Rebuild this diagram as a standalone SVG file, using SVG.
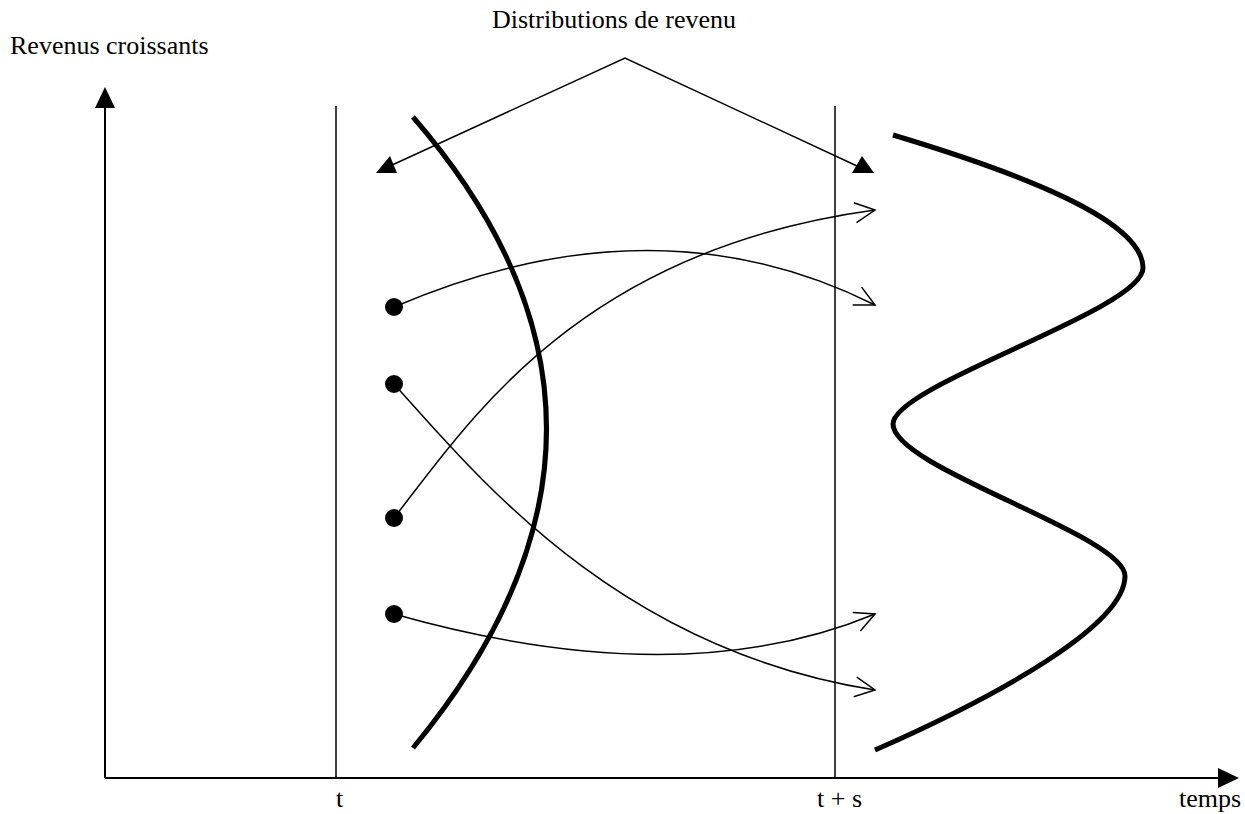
<svg xmlns="http://www.w3.org/2000/svg" width="1245" height="814" viewBox="0 0 1245 814">
<style>
text{font-family:"Liberation Serif","Times New Roman",serif;font-size:26px;fill:#000}
.thin{fill:none;stroke:#000;stroke-width:1.5}
.axis{fill:none;stroke:#000;stroke-width:2}
.thick{fill:none;stroke:#000;stroke-width:5;stroke-linejoin:round}
.arr{fill:none;stroke:#000;stroke-width:1.5;marker-end:url(#open)}
</style>
<defs>
<marker id="open" markerUnits="userSpaceOnUse" markerWidth="26" markerHeight="26" refX="22" refY="11" orient="auto" viewBox="0 0 26 22">
<path d="M2,1 L22,11 L2,21" fill="none" stroke="#000" stroke-width="1.5"/>
</marker>
</defs>
<rect width="1245" height="814" fill="#fff"/>
<g id="labels">
<text x="10" y="54">Revenus croissants</text>
<text x="492" y="28">Distributions de revenu</text>
<text x="336" y="807">t</text>
<text x="817" y="807">t + s</text>
<text x="1179" y="807">temps</text>
</g>
<g id="axes">
<line class="axis" x1="105" y1="778" x2="105" y2="100"/>
<polygon points="105,87 95,108 115,108"/>
<line class="axis" x1="105" y1="778" x2="1225" y2="778"/>
<polygon points="1239,778 1218,768 1218,788"/>
<line class="thin" x1="336" y1="106" x2="336" y2="778"/>
<line class="thin" x1="835" y1="106" x2="835" y2="778"/>
</g>
<g id="distribution-t">
<path class="thick" d="M413,117 Q680,425 413,748"/>
</g>
<g id="distribution-ts">
<path class="thick" d="M893,135 C1060,185 1143,228 1143,268 C1143,310 893,385 893,424 C893,468 1125,535 1125,576 C1125,625 1000,695 875,750"/>
</g>
<g id="dots">
<circle cx="394" cy="307" r="9"/>
<circle cx="394" cy="384" r="9"/>
<circle cx="394" cy="518" r="9"/>
<circle cx="394" cy="614" r="9"/>
</g>
<g id="connectors">
<polyline class="thin" points="390,166 625,58 857,166"/>
<polygon points="376,173 397,173 390,156"/>
<polygon points="852,173 874,173 862,156"/>
<path class="arr" d="M394,307 Q655,195 875,305"/>
<path class="arr" d="M394,384 C480,480 620,650 875,690"/>
<path class="arr" d="M394,518 C470,420 580,250 875,210"/>
<path class="arr" d="M394,614 Q680,695 875,614"/>
</g>
</svg>
